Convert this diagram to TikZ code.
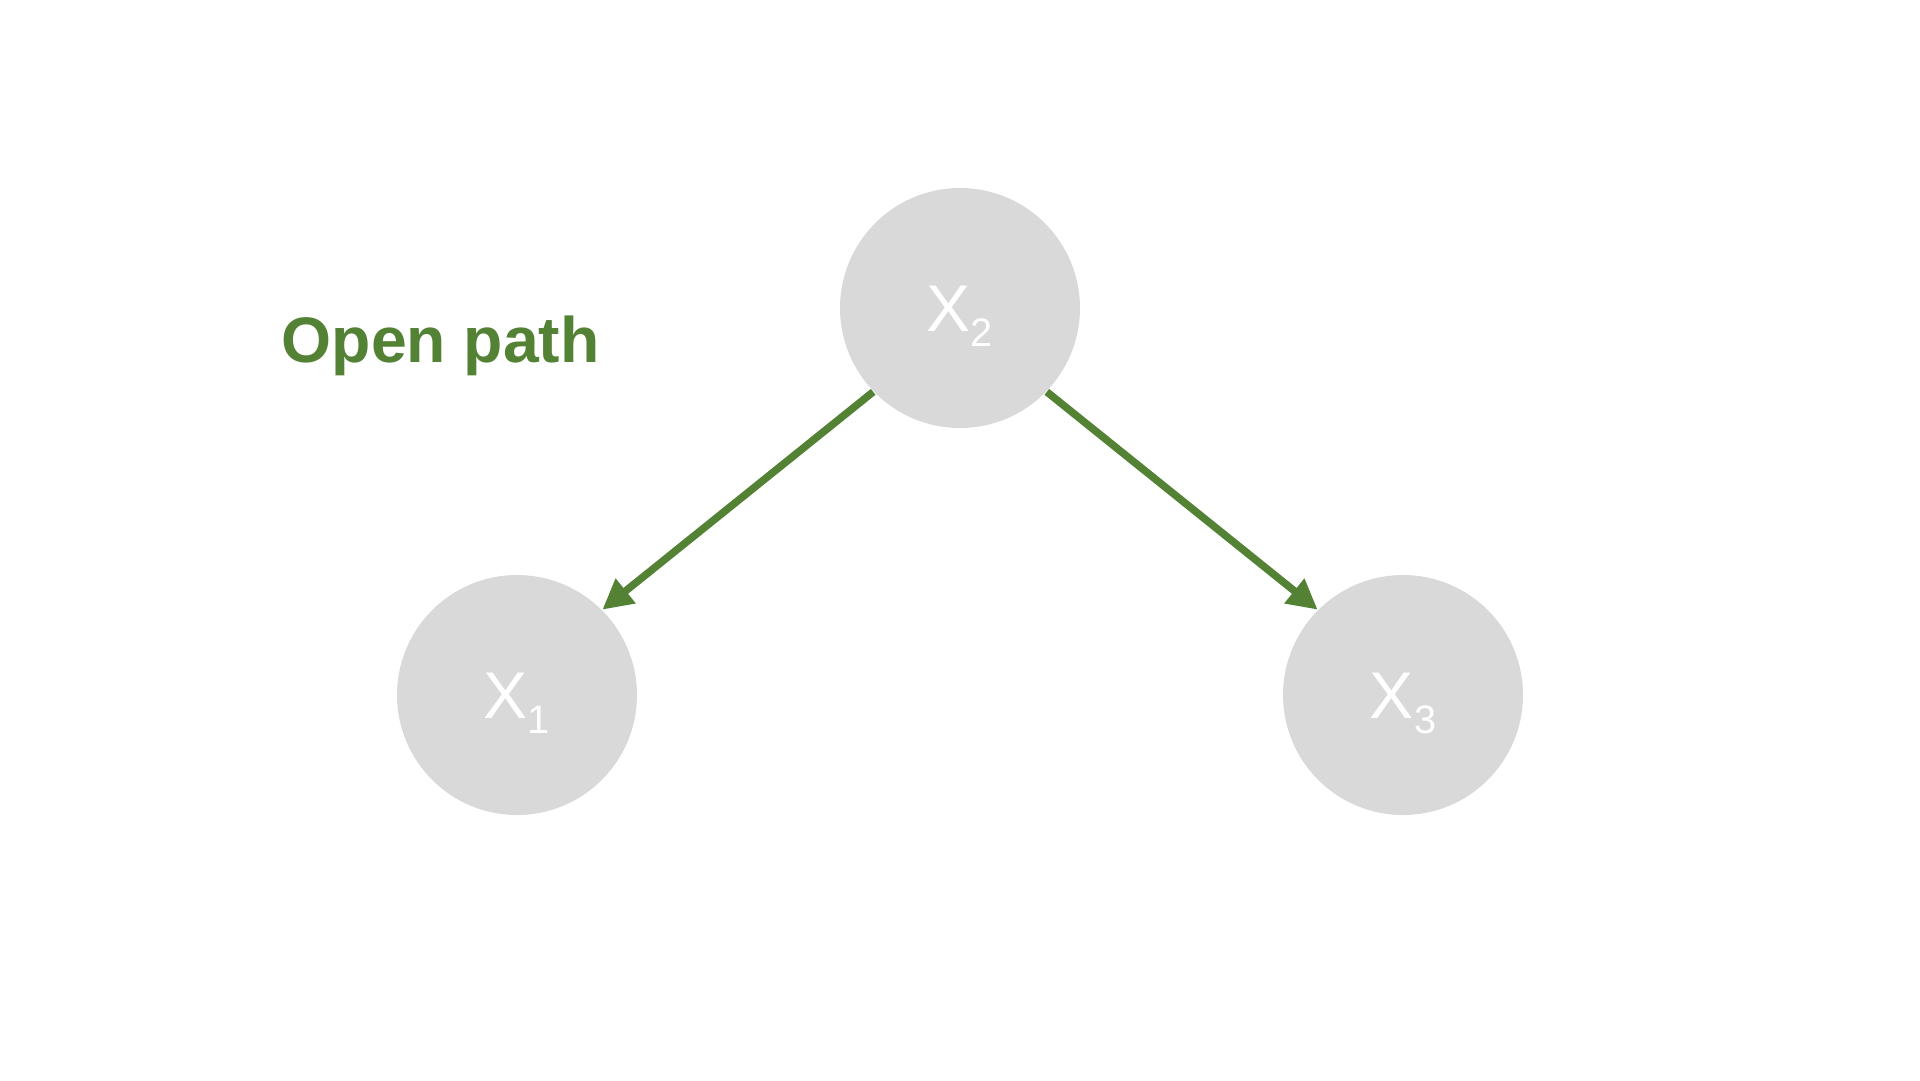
\documentclass[tikz,border=0pt]{standalone}
\usepackage{fontspec}
\setmainfont{Liberation Sans}
\usetikzlibrary{arrows.meta}
\definecolor{pathgreen}{HTML}{548235}
\definecolor{nodegray}{HTML}{D9D9D9}
\tikzset{
  varnode/.style={circle, fill=nodegray, draw=none, minimum size=24mm, inner sep=0pt,
    text=white, font=\fontsize{18.8}{20}\selectfont},
  patharrow/.style={draw=pathgreen, line width=0.75mm, -{Triangle[length=3mm,width=3mm]}},
}
\newcommand{\xsub}[1]{\raisebox{0pt}[13.4pt][0pt]{X{\fontsize{11.3}{12}\selectfont\raisebox{-4.3pt}{#1}}}}
\begin{document}
\begin{tikzpicture}[x=0.1mm, y=-0.1mm]
\useasboundingbox (0,0) rectangle (1920,1080);
\node[varnode] (x2) at (960,308) {\xsub{2}};
\node[varnode] (x1) at (517,695) {\xsub{1}};
\node[varnode] (x3) at (1403,695) {\xsub{3}};
\node[anchor=base west, inner sep=0pt, text=pathgreen, font=\bfseries\fontsize{18.3}{20}\selectfont] (label) at (281,362) {Open path};
\draw[patharrow] (x2.-136) -- (x1.45);
\draw[patharrow] (x2.-44) -- (x3.135);
\end{tikzpicture}
\end{document}
